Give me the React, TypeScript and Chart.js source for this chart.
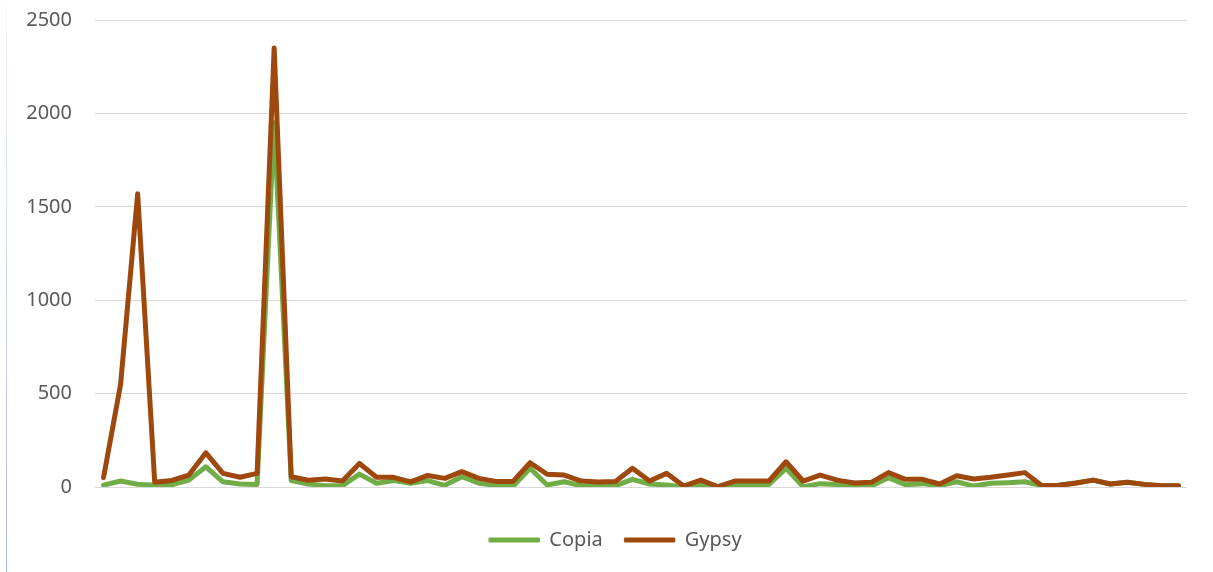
import React, { useEffect, useRef } from "react";
import { Chart, registerables } from "chart.js";

Chart.register(...registerables);

const categories: string[] = Array.from({ length: 64 }, (_, i) => String(i + 1));

const copiaValues: number[] = [
  10, 32, 15, 10, 12, 37, 108, 28, 16, 14,
  1950, 34, 16, 7, 7, 69, 20, 34, 20, 34,
  9, 55, 20, 9, 4, 100, 11, 28, 7, 5,
  7, 41, 16, 11, 0, 11, 0, 9, 11, 14,
  100, 2, 18, 14, 9, 5, 50, 12, 18, 7,
  28, 5, 20, 23, 28, 7, 9, 21, 37, 16,
  25, 14, 7, 7,
];

const gypsyValues: number[] = [
  50, 550, 1570, 25, 35, 64, 183, 73, 52, 73,
  2350, 55, 36, 43, 32, 126, 52, 52, 27, 62,
  46, 82, 46, 30, 30, 130, 68, 64, 32, 27,
  30, 100, 32, 73, 5, 37, 2, 32, 32, 32,
  135, 32, 64, 37, 21, 25, 77, 41, 41, 16,
  60, 43, 52, 64, 77, 7, 9, 21, 37, 16,
  25, 14, 7, 7,
];

const yTicks: number[] = [0, 500, 1000, 1500, 2000, 2500];

const seriesNames: string[] = ["Copia", "Gypsy"];
const seriesColors: string[] = ["#70AD47", "#9E480E"];

const legendShift = {
  id: "legendShift",
  afterLayout(chart: any) {
    if (chart.legend) {
      chart.legend.left += 22;
      chart.legend.right += 22;
    }
  },
};

export default function App() {
  const canvasRef = useRef<HTMLCanvasElement | null>(null);

  useEffect(() => {
    document.body.style.margin = "0";
    const canvas = canvasRef.current;
    if (!canvas) return;
    const font = '"Noto Sans", "Open Sans", sans-serif';
    const chart = new Chart(canvas, {
      type: "line",
      data: {
        labels: categories,
        datasets: [
          {
            label: seriesNames[0],
            data: copiaValues,
            borderColor: seriesColors[0],
            backgroundColor: seriesColors[0],
            borderWidth: 5,
            pointRadius: 0,
            tension: 0,
            borderJoinStyle: "round",
            borderCapStyle: "round",
            order: 1,
          },
          {
            label: seriesNames[1],
            data: gypsyValues,
            borderColor: seriesColors[1],
            backgroundColor: seriesColors[1],
            borderWidth: 5,
            pointRadius: 0,
            tension: 0,
            borderJoinStyle: "round",
            borderCapStyle: "round",
            order: 0,
          },
        ],
      },
      plugins: [legendShift],
      options: {
        animation: false,
        responsive: false,
        maintainAspectRatio: false,
        layout: { padding: { left: 0, right: 26, top: 20, bottom: 12 } },
        scales: {
          x: {
            type: "category",
            offset: true,
            grid: { display: false, drawTicks: false },
            border: { display: false },
            ticks: { display: false },
            afterFit: (scale: any) => {
              scale.height = 21;
            },
          },
          y: {
            min: 0,
            max: 2500,
            afterBuildTicks: (scale: any) => {
              scale.ticks = yTicks.map((v) => ({ value: v }));
            },
            grid: {
              color: "#D9D9D9",
              lineWidth: 1,
              drawTicks: true,
              tickLength: 23,
              tickColor: "rgba(255,255,255,0)",
            },
            border: { display: false },
            ticks: {
              color: "#595959",
              padding: 0,
              font: { family: font, size: 20 },
              callback: (v: any) => String(v),
            },
            afterFit: (scale: any) => {
              scale.width = 95;
            },
          },
        },
        plugins: {
          tooltip: { enabled: false },
          legend: {
            position: "bottom",
            labels: {
              color: "#595959",
              font: { family: font, size: 20 },
              boxWidth: 50,
              boxHeight: 4,
              padding: 22,
              sort: (a: any, b: any) => a.datasetIndex - b.datasetIndex,
              generateLabels: (c: any) =>
                Chart.defaults.plugins.legend.labels
                  .generateLabels(c)
                  .map((item: any) => ({ ...item, lineWidth: 1, fillStyle: item.strokeStyle })),
            },
          },
        },
      },
    });
    return () => chart.destroy();
  }, []);

  return (
    <div style={{ position: "relative", width: 1213, height: 572, background: "#fff" }}>
      <div
        style={{
          position: "absolute",
          left: 6,
          top: 0,
          width: 1,
          height: 572,
          background: "linear-gradient(to bottom, #f4f7fc, #c9d8f0 50%, #9db9e5)",
        }}
      />
      <canvas ref={canvasRef} width={1213} height={572} style={{ display: "block" }} />
    </div>
  );
}
